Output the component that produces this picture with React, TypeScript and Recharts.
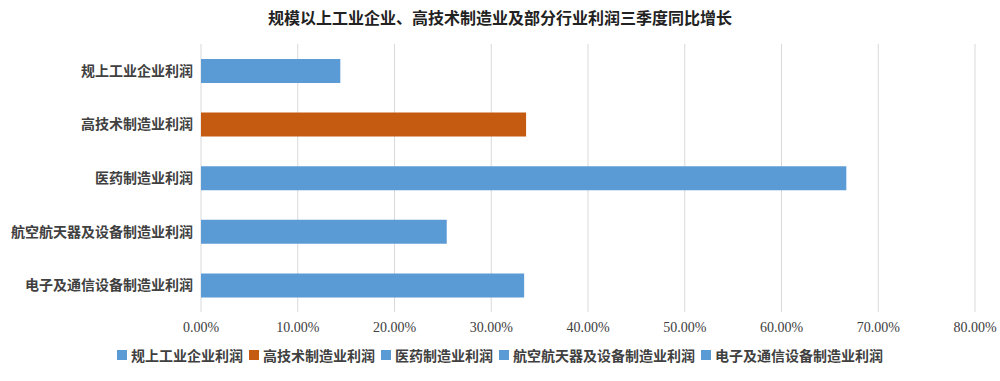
import { Bar, BarChart, CartesianGrid, Cell, Legend, XAxis, YAxis } from "recharts";

const categories = [
  "规上工业企业利润",
  "高技术制造业利润",
  "医药制造业利润",
  "航空航天器及设备制造业利润",
  "电子及通信设备制造业利润",
];
const values = [0.144, 0.336, 0.667, 0.254, 0.334];
const colors = ["#5b9bd5", "#c55a11", "#5b9bd5", "#5b9bd5", "#5b9bd5"];
const xTicks = [0, 0.1, 0.2, 0.3, 0.4, 0.5, 0.6, 0.7, 0.8];

const title = "规模以上工业企业、高技术制造业及部分行业利润三季度同比增长";

const chartData = categories.map((name, i) => ({ name, value: values[i] }));

const font = "Liberation Serif, Noto Sans CJK SC, serif";

const formatPct = (v: number) => (v * 100).toFixed(2) + "%";

function XTick({ x, y, payload }: any) {
  return (
    <text x={x} y={y + 12} textAnchor="middle" fill="#404040" fontFamily="Liberation Serif" fontSize={14}>
      {formatPct(payload.value)}
    </text>
  );
}

function YTick({ x, y, payload }: any) {
  return (
    <text x={x} y={y + 5} textAnchor="end" fill="#404040" fontFamily={font} fontSize={14} fontWeight="bold">
      {payload.value}
    </text>
  );
}

function LegendRow() {
  return (
    <div style={{ display: "flex", justifyContent: "center", alignItems: "center", fontFamily: font }}>
      {categories.map((name, i) => (
        <span key={name} style={{ display: "flex", alignItems: "center", marginLeft: i === 0 ? 0 : 6 }}>
          <span style={{ width: 10, height: 10, background: colors[i], marginRight: 4, display: "inline-block" }} />
          <span style={{ fontSize: 14, fontWeight: "bold", color: "#404040" }}>{name}</span>
        </span>
      ))}
    </div>
  );
}

export default function App() {
  return (
    <div style={{ position: "absolute", left: 0, top: 0, width: 1000, height: 381, fontFamily: font }}>
      <div
        style={{
          position: "absolute",
          top: 5,
          left: 0,
          width: 1000,
          textAlign: "center",
          fontSize: 16,
          fontWeight: "bold",
          color: "#222",
        }}
      >
        {title}
      </div>
      <BarChart
        width={1000}
        height={381}
        data={chartData}
        layout="vertical"
        margin={{ top: 44, right: 25, bottom: 16, left: 0 }}
        barCategoryGap="28%"
      >
        <CartesianGrid horizontal={false} stroke="#d9d9d9" />
        <XAxis
          type="number"
          domain={[0, 0.8]}
          ticks={xTicks}
          axisLine={false}
          tickLine={false}
          height={33}
          tick={<XTick />}
        />
        <YAxis
          type="category"
          dataKey="name"
          width={201}
          axisLine={false}
          tickLine={false}
          interval={0}
          tick={<YTick />}
        />
        <Legend
          verticalAlign="bottom"
          height={20}
          wrapperStyle={{ left: 0, width: 1000 }}
          content={() => <LegendRow />}
        />
        <Bar dataKey="value" isAnimationActive={false}>
          {chartData.map((d, i) => (
            <Cell key={d.name} fill={colors[i]} />
          ))}
        </Bar>
      </BarChart>
    </div>
  );
}
